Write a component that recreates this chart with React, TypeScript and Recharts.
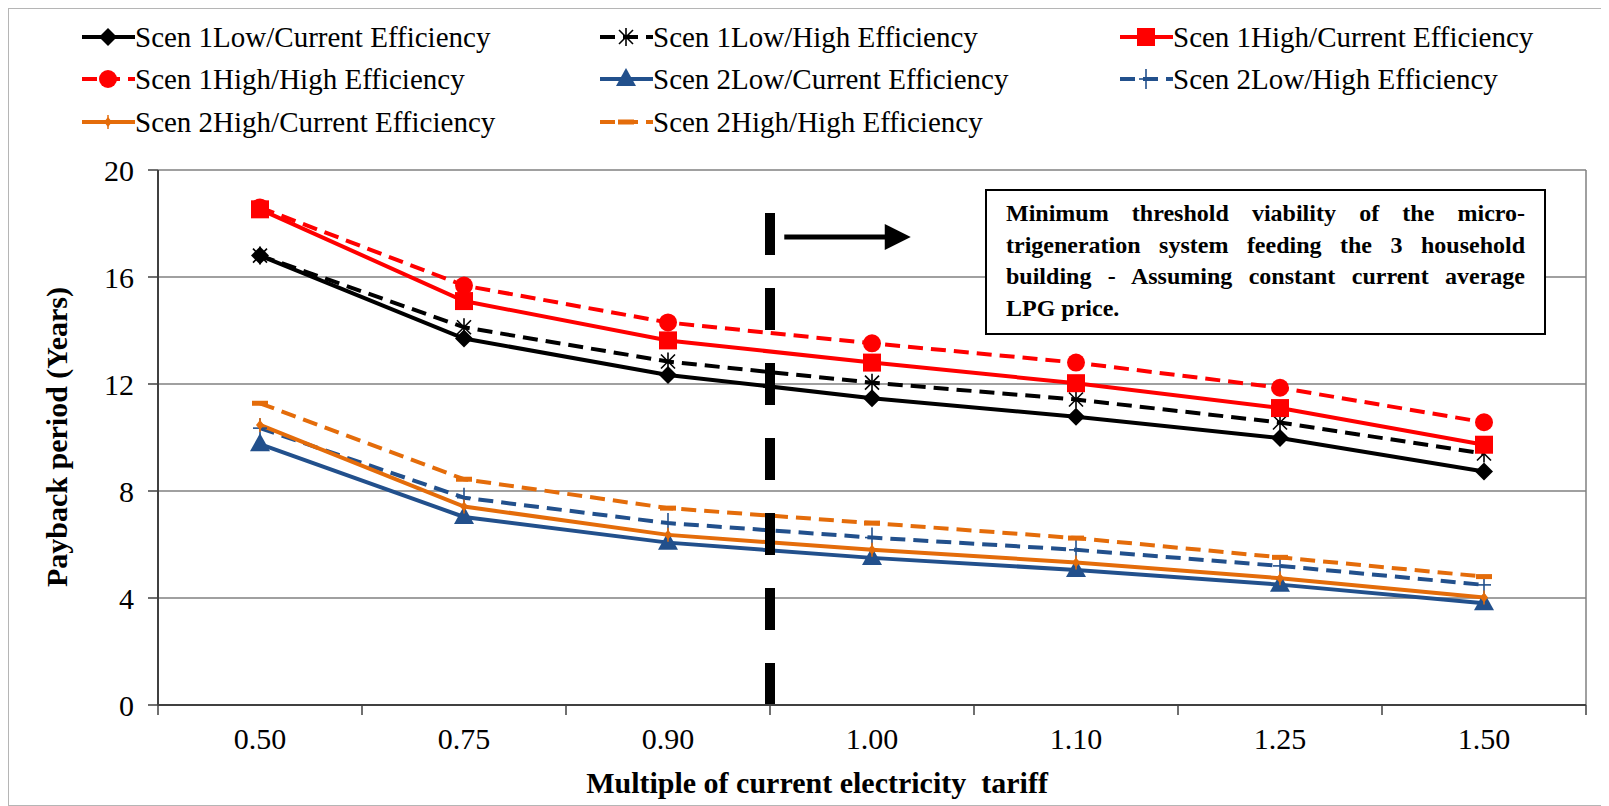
import React from 'react';
import { LineChart, Line, XAxis, YAxis, CartesianGrid, ReferenceLine } from 'recharts';

const xLabels = ['0.50', '0.75', '0.90', '1.00', '1.10', '1.25', '1.50'];
const s1LowCur = [16.8, 13.7, 12.34, 11.47, 10.78, 9.98, 8.73];
const s1LowHigh = [16.8, 14.12, 12.84, 12.05, 11.42, 10.56, 9.4];
const s1HighCur = [18.53, 15.1, 13.63, 12.8, 12.03, 11.1, 9.73];
const s1HighHigh = [18.6, 15.68, 14.3, 13.52, 12.8, 11.86, 10.57];
const s2LowCur = [9.75, 7.03, 6.07, 5.5, 5.05, 4.5, 3.8];
const s2LowHigh = [10.35, 7.75, 6.8, 6.26, 5.8, 5.2, 4.49];
const s2HighCur = [10.47, 7.42, 6.36, 5.8, 5.33, 4.74, 4.02];
const s2HighHigh = [11.28, 8.44, 7.36, 6.8, 6.24, 5.52, 4.8];
const yTicks = [0, 4, 8, 12, 16, 20];

const BLUE = '#22508C';
const ORANGE = '#E46C0A';
const RED = '#FF0000';
const BLACK = '#000000';
const FONT = '"Liberation Serif", "Times New Roman", serif';

type Marker = 'diamond' | 'star' | 'square' | 'circle' | 'triangle' | 'plus' | 'smalldiamond' | 'dash';

const series: { key: string; name: string; values: number[]; color: string; dash?: string; marker: Marker }[] = [
  { key: 's1lc', name: 'Scen 1Low/Current Efficiency', values: s1LowCur, color: BLACK, marker: 'diamond' },
  { key: 's1lh', name: 'Scen 1Low/High Efficiency', values: s1LowHigh, color: BLACK, dash: '15 8', marker: 'star' },
  { key: 's1hc', name: 'Scen 1High/Current Efficiency', values: s1HighCur, color: RED, marker: 'square' },
  { key: 's1hh', name: 'Scen 1High/High Efficiency', values: s1HighHigh, color: RED, dash: '15 8', marker: 'circle' },
  { key: 's2lc', name: 'Scen 2Low/Current Efficiency', values: s2LowCur, color: BLUE, marker: 'triangle' },
  { key: 's2lh', name: 'Scen 2Low/High Efficiency', values: s2LowHigh, color: BLUE, dash: '15 8', marker: 'plus' },
  { key: 's2hc', name: 'Scen 2High/Current Efficiency', values: s2HighCur, color: ORANGE, marker: 'smalldiamond' },
  { key: 's2hh', name: 'Scen 2High/High Efficiency', values: s2HighHigh, color: ORANGE, dash: '15 8', marker: 'dash' },
];

const data = xLabels.map((label, i) => {
  const row: any = { xi: i + 0.5, label };
  series.forEach((s) => { row[s.key] = s.values[i]; });
  return row;
});

function drawMarker(kind: Marker, cx: number, cy: number, color: string, key?: any) {
  switch (kind) {
    case 'diamond':
      return <polygon key={key} points={`${cx},${cy - 9} ${cx + 9},${cy} ${cx},${cy + 9} ${cx - 9},${cy}`} fill={color} />;
    case 'star':
      return (
        <g key={key} stroke={color} strokeWidth={1.6}>
          <line x1={cx} y1={cy - 9} x2={cx} y2={cy + 9} />
          <line x1={cx - 7} y1={cy - 7} x2={cx + 7} y2={cy + 7} />
          <line x1={cx - 7} y1={cy + 7} x2={cx + 7} y2={cy - 7} />
        </g>
      );
    case 'square':
      return <rect key={key} x={cx - 9} y={cy - 9} width={18} height={18} fill={color} />;
    case 'circle':
      return <circle key={key} cx={cx} cy={cy} r={9} fill={color} />;
    case 'triangle':
      return <polygon key={key} points={`${cx},${cy - 11} ${cx + 10},${cy + 7} ${cx - 10},${cy + 7}`} fill={color} />;
    case 'plus':
      return (
        <g key={key} stroke={color} strokeWidth={1.6}>
          <line x1={cx} y1={cy - 10} x2={cx} y2={cy + 10} />
          <line x1={cx - 7} y1={cy} x2={cx + 7} y2={cy} />
        </g>
      );
    case 'smalldiamond':
      return (
        <g key={key}>
          <polygon points={`${cx},${cy - 5} ${cx + 4},${cy} ${cx},${cy + 5} ${cx - 4},${cy}`} fill={color} />
          <line x1={cx} y1={cy - 7} x2={cx} y2={cy + 7} stroke={color} strokeWidth={1.5} />
        </g>
      );
    case 'dash':
      return <rect key={key} x={cx - 8} y={cy - 2.5} width={16} height={5} fill={color} />;
  }
  return null;
}

const XTick = (props: any) => {
  const { x, y, payload } = props;
  const v = payload.value as number;
  if (Number.isInteger(v)) {
    return <line x1={x} y1={y} x2={x} y2={y + 10} stroke="#404040" strokeWidth={1.5} />;
  }
  const idx = Math.floor(v);
  return (
    <text x={x} y={y + 44} textAnchor="middle" fontSize={30} fontFamily={FONT} fill="#000">
      {xLabels[idx]}
    </text>
  );
};

const ArrowShape = (props: any) => {
  const { x1, y1, x2, y2 } = props;
  if (x1 == null) return null;
  const head = 26;
  return (
    <g>
      <line x1={x1} y1={y1} x2={x2 - head + 2} y2={y2} stroke="#000" strokeWidth={5} />
      <polygon points={`${x2},${y2} ${x2 - head},${y2 - 13} ${x2 - head},${y2 + 13}`} fill="#000" />
    </g>
  );
};

const xTickVals = Array.from({ length: 15 }, (_, i) => i * 0.5);

const W = 1601;
const H = 798;

const annotationLines = [
  'Minimum threshold viability of the micro-',
  'trigeneration system feeding the 3 household',
  'building - Assuming constant current average',
  'LPG price.',
];

const legendRows = [
  [0, 1, 2],
  [3, 4, 5],
  [6, 7],
];
const legendRowY = [29, 71, 114];
const legendColX = [74, 592, 1112];

export default function App() {
  return (
    <div style={{ position: 'relative', width: W, height: H, fontFamily: FONT, background: '#fff' }}>
      <LineChart
        width={W}
        height={H}
        data={data}
        margin={{ top: 162, right: 23, bottom: 71, left: 90 }}
        style={{ fontFamily: FONT }}
      >
        <CartesianGrid vertical={false} stroke="#808080" strokeWidth={1.5} />
        <XAxis
          type="number"
          dataKey="xi"
          domain={[0, 7]}
          ticks={xTickVals}
          interval={0}
          allowDecimals
          tickLine={false}
          tickSize={0}
          tickMargin={0}
          height={30}
          axisLine={{ stroke: '#404040', strokeWidth: 2 }}
          tick={<XTick />}
        />
        <YAxis
          type="number"
          domain={[0, 20]}
          ticks={yTicks}
          interval={0}
          width={60}
          tickSize={10}
          tickMargin={14}
          tickLine={{ stroke: '#404040', strokeWidth: 1.5 }}
          axisLine={{ stroke: '#404040', strokeWidth: 2 }}
          tick={{ fontSize: 30, fill: '#000', fontFamily: FONT }}
        />
        <ReferenceLine x={7} stroke="#808080" strokeWidth={1.5} />
        {series.map((s) => (
          <Line
            key={s.key}
            type="linear"
            dataKey={s.key}
            name={s.name}
            stroke={s.color}
            strokeWidth={4}
            strokeDasharray={s.dash}
            isAnimationActive={false}
            dot={(p: any) => drawMarker(s.marker, p.cx, p.cy, s.color, `${s.key}-${p.index}`)}
            activeDot={false}
          />
        ))}
        <ReferenceLine
          segment={[{ x: 3, y: 18.39 }, { x: 3, y: 0 }]}
          stroke="#000"
          strokeWidth={10}
          strokeDasharray="42 33"
        />
        <ReferenceLine
          segment={[{ x: 3.07, y: 17.5 }, { x: 3.69, y: 17.5 }]}
          shape={<ArrowShape />}
        />
      </LineChart>

      {/* outer chart border */}
      <div
        style={{
          position: 'absolute',
          left: 0,
          top: 0,
          width: W,
          height: H,
          boxSizing: 'border-box',
          border: '1.5px solid #b5b5b5',
          pointerEvents: 'none',
        }}
      />

      {/* axis titles */}
      <svg width={W} height={H} style={{ position: 'absolute', left: 0, top: 0, pointerEvents: 'none' }}>
        <text
          x={809}
          y={785}
          textAnchor="middle"
          fontWeight="bold"
          fontSize={30}
          fontFamily={FONT}
          style={{ whiteSpace: 'pre' }}
        >
          {'Multiple of current electricity  tariff'}
        </text>
        <text
          transform="translate(48,429) rotate(-90)"
          textAnchor="middle"
          dominantBaseline="central"
          fontWeight="bold"
          fontSize={30}
          fontFamily={FONT}
        >
          Payback period (Years)
        </text>
      </svg>

      {/* legend */}
      {legendRows.map((row, r) =>
        row.map((si, c) => {
          const s = series[si];
          return (
            <div
              key={s.key}
              style={{
                position: 'absolute',
                left: legendColX[c],
                top: legendRowY[r] - 20,
                height: 40,
                display: 'flex',
                alignItems: 'center',
                whiteSpace: 'nowrap',
              }}
            >
              <svg width={53} height={40} style={{ display: 'block' }}>
                <line x1={0} y1={20} x2={53} y2={20} stroke={s.color} strokeWidth={4} strokeDasharray={s.dash} />
                {drawMarker(s.marker, 26, 20, s.color)}
              </svg>
              <span style={{ fontSize: 29, color: '#000', marginLeft: 0, lineHeight: '40px' }}>{s.name}</span>
            </div>
          );
        })
      )}

      {/* annotation box */}
      <div
        style={{
          position: 'absolute',
          left: 977,
          top: 181,
          width: 561,
          height: 146,
          boxSizing: 'border-box',
          border: '2px solid #000',
          background: '#fff',
          padding: '7px 19px',
          fontSize: 24,
          fontWeight: 'bold',
          lineHeight: '31.7px',
          color: '#000',
        }}
      >
        {annotationLines.map((l, i) => (
          <div
            key={i}
            style={{
              textAlign: 'justify',
              textAlignLast: i < annotationLines.length - 1 ? 'justify' : 'left',
              whiteSpace: 'nowrap',
            }}
          >
            {l}
          </div>
        ))}
      </div>
    </div>
  );
}
